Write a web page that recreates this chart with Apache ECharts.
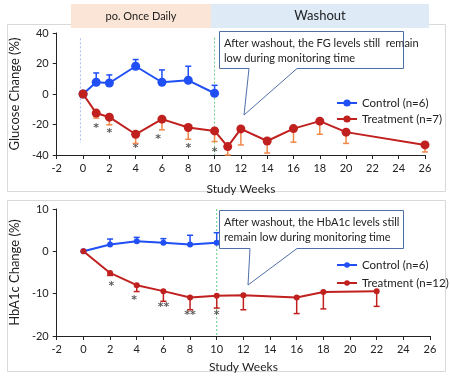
<!DOCTYPE html>
<html><head><meta charset="utf-8">
<script src="https://cdn.jsdelivr.net/npm/echarts@6/dist/echarts.min.js"></script>
<style>html,body{margin:0;padding:0;background:#fff}#c{width:450px;height:376px}</style>
</head><body><div id="c"></div>
<script>
// ---- Data ----
const xTicks = [-2,0,2,4,6,8,10,12,14,16,18,20,22,24,26];
// Top chart: fasting glucose change (%)
const fgCtrlWeeks = [0,1,2,4,6,8,10];
const fgCtrlVals  = [0,7.7,7.2,18.2,7.7,9.0,0.5];
const fgCtrlErr   = [0,6.1,5.3,4.4,8.1,9.2,5.2];
const fgTrtWeeks  = [0,1,2,4,6,8,10,11,12,14,16,18,20,26];
const fgTrtVals   = [0,-12.5,-15.2,-26.4,-16.5,-22.0,-24.2,-34.5,-22.9,-30.8,-22.7,-17.8,-25.0,-33.4];
const fgTrtErr    = [0,3.3,5.0,6.0,7.0,7.7,7.0,6.0,10.5,7.9,8.9,8.6,7.4,4.6];
const fgStarWeeks = [1,2,4,5.7,8,10];
const fgStarVals  = [-21.4,-24.2,-34.5,-28.6,-34.5,-36.7];
const fgStarText  = ['*','*','*','*','*','*'];
// Bottom chart: HbA1c change (%)
const hbCtrlWeeks = [0,2,4,6,8,10];
const hbCtrlVals  = [0,1.6,2.4,2.0,1.6,2.0];
const hbCtrlErr   = [0,1.3,0.9,1.0,2.2,2.4];
const hbTrtWeeks  = [0,2,4,6,8,10,12,16,18,22];
const hbTrtVals   = [0,-5.1,-8.0,-9.4,-10.9,-10.5,-10.4,-10.9,-9.6,-9.4];
const hbTrtErr    = [0,0.6,1.5,2.4,2.9,2.9,3.4,3.8,4.0,3.6];
const hbStarWeeks = [2.1,3.8,6,8,10];
const hbStarVals  = [-7.8,-11.1,-12.8,-14.6,-14.7];
const hbStarText  = ['*','*','**','**','*'];

const BLUE = '#1f4ff5', RED = '#c0201e', ORANGE = '#f0884a';
const FONT = 'Lato';

function zip(xs, ys){ return xs.map((x,i)=>[x, ys[i]]); }
function errData(xs, ys, es){ return xs.map((x,i)=>[x, ys[i], es[i]]); }
function errSeries(xi, yi, data, color, dir){
  return {
    type:'custom', xAxisIndex:xi, yAxisIndex:yi, data:data, z:3, silent:true,
    renderItem:function(params, api){
      const x = api.value(0), y = api.value(1), e = api.value(2);
      if (!e) return null;
      const p0 = api.coord([x, y]);
      const p1 = api.coord([x, y + dir*e]);
      const cs = params.coordSys;
      const yEnd = Math.max(cs.y, Math.min(cs.y+cs.height, p1[1]));
      const style = {stroke: color, lineWidth: 1.5};
      return {type:'group', children:[
        {type:'line', shape:{x1:p0[0], y1:p0[1], x2:p0[0], y2:yEnd}, style:style},
        {type:'line', shape:{x1:p0[0]-3, y1:yEnd, x2:p0[0]+3, y2:yEnd}, style:style}
      ]};
    }
  };
}
function starSeries(xi, yi, xs, ys, txt){
  return {
    type:'scatter', xAxisIndex:xi, yAxisIndex:yi, symbolSize:0, silent:true,
    data: xs.map((x,i)=>({value:[x, ys[i]], label:{formatter: txt[i]}})),
    label:{show:true, position:'inside', color:'#333', fontSize:11, fontWeight:'bold', fontFamily:'DejaVu Sans', offset:[0,2]}
  };
}
function vline(xi, yi, x, y0, y1, color){
  return {type:'line', xAxisIndex:xi, yAxisIndex:yi, data:[[x,y0],[x,y1]], symbol:'none', silent:true, z:1,
    color:color, lineStyle:{color:color, width:1, type:[2,2]}};
}

const axisLbl = {color:'#222', fontSize:11, fontFamily:FONT};
function xAxis(gi){
  return {type:'value', gridIndex:gi, min:-2, max:26, interval:2,
    name:'Study Weeks', nameLocation:'middle', nameGap: gi===0 ? 28 : 25,
    nameTextStyle:{color:'#222', fontSize:12, fontFamily:FONT},
    axisLine:{onZero:false, lineStyle:{color:'#222'}}, axisTick:{show:true, length:4, lineStyle:{color:'#222'}},
    axisLabel:axisLbl, splitLine:{show:false}};
}
function yAxis(gi, min, max, iv, name){
  return {type:'value', gridIndex:gi, min:min, max:max, interval:iv,
    name:name, nameLocation:'middle', nameGap: gi===0 ? 26 : 29,
    nameTextStyle:{color:'#222', fontSize:13, fontFamily:FONT},
    axisLine:{show:true, onZero:false, lineStyle:{color:'#222'}}, axisTick:{show:true, length:4, lineStyle:{color:'#222'}},
    axisLabel:axisLbl, splitLine:{show:false}};
}

const chart = echarts.init(document.getElementById('c'), null, {renderer:'canvas'});
const option = {
  animation:false,
  textStyle:{fontFamily:FONT},
  grid:[
    {left:45, right:25, top:33, bottom:221},
    {left:49, right:20, top:209, bottom:40}
  ],
  xAxis:[xAxis(0), xAxis(1)],
  yAxis:[yAxis(0,-40,40,20,'Glucose Change (%)'), yAxis(1,-20,10,10,'HbA1c Change (%)')],
  legend:[
    {orient:'vertical', left:331, top:92, itemWidth:20, itemHeight:9, itemGap:4,
     textStyle:{color:'#222', fontSize:11.5, fontFamily:FONT}, data:['Control (n=6)','Treatment (n=7)']},
    {orient:'vertical', left:331, top:254, itemWidth:20, itemHeight:7, itemGap:6,
     textStyle:{color:'#222', fontSize:11.5, fontFamily:FONT}, data:[{name:'Control (n=6)'},{name:'Treatment (n=12)'}]}
  ],
  graphic:[
    {type:'rect', shape:{x:7.5, y:24.5, width:438, height:167}, style:{fill:'none', stroke:'#d9d9d9', lineWidth:1}, z:-10},
    {type:'rect', shape:{x:7.5, y:200.5, width:438, height:171}, style:{fill:'none', stroke:'#d9d9d9', lineWidth:1}, z:-10},
    {type:'rect', shape:{x:71, y:4, width:140, height:24}, style:{fill:'#fbe5d6'}, z:5},
    {type:'rect', shape:{x:211, y:4, width:218, height:24}, style:{fill:'#deebf7'}, z:5},
    {type:'text', x:141, y:16, style:{text:'po. Once Daily', fill:'#222', fontSize:11, fontFamily:FONT, align:'center', verticalAlign:'middle'}, z:6},
    {type:'text', x:320, y:16, style:{text:'Washout', fill:'#222', fontSize:13, fontFamily:FONT, align:'center', verticalAlign:'middle'}, z:6},
    {type:'polygon', shape:{points:[[219.5,31.5],[403.5,31.5],[403.5,68.5],[297,68.5],[244,115],[249,68.5],[219.5,68.5]]},
      style:{fill:'#fff', stroke:'#4f6fa8', lineWidth:1}, z:20},
    {type:'text', x:224, y:43, style:{text:'After washout, the FG levels still  remain', fill:'#222', fontSize:11, fontFamily:FONT, verticalAlign:'middle'}, z:21},
    {type:'text', x:224, y:58, style:{text:'low during monitoring time', fill:'#222', fontSize:11, fontFamily:FONT, verticalAlign:'middle'}, z:21},
    {type:'polygon', shape:{points:[[219.5,210.5],[403.5,210.5],[403.5,248.5],[297,248.5],[248,285],[250,248.5],[219.5,248.5]]},
      style:{fill:'#fff', stroke:'#4f6fa8', lineWidth:1}, z:20},
    {type:'text', x:224, y:222, style:{text:'After washout, the HbA1c levels still', fill:'#222', fontSize:11, fontFamily:FONT, verticalAlign:'middle'}, z:21},
    {type:'text', x:224, y:237, style:{text:'remain low during monitoring time', fill:'#222', fontSize:11, fontFamily:FONT, verticalAlign:'middle'}, z:21}
  ],
  series:[
    vline(0,0,-0.2,36.5,-32,'#a9b9f0'),
    vline(0,0,10,37,-40,'#66cc88'),
    vline(1,1,10,10,-20,'#66cc88'),
    errSeries(0,0, errData(fgCtrlWeeks, fgCtrlVals, fgCtrlErr), BLUE, 1),
    errSeries(0,0, errData(fgTrtWeeks, fgTrtVals, fgTrtErr), ORANGE, -1),
    {name:'Control (n=6)', type:'line', xAxisIndex:0, yAxisIndex:0, data:zip(fgCtrlWeeks, fgCtrlVals),
      symbol:'circle', symbolSize:9, color:BLUE, lineStyle:{width:2, color:BLUE}, z:4},
    {name:'Treatment (n=7)', type:'line', xAxisIndex:0, yAxisIndex:0, data:zip(fgTrtWeeks, fgTrtVals),
      symbol:'circle', symbolSize:9, color:RED, lineStyle:{width:2, color:RED}, z:4},
    starSeries(0,0, fgStarWeeks, fgStarVals, fgStarText),
    errSeries(1,1, errData(hbCtrlWeeks, hbCtrlVals, hbCtrlErr), BLUE, 1),
    errSeries(1,1, errData(hbTrtWeeks, hbTrtVals, hbTrtErr), RED, -1),
    {name:'Control (n=6)', type:'line', xAxisIndex:1, yAxisIndex:1, data:zip(hbCtrlWeeks, hbCtrlVals),
      symbol:'circle', symbolSize:6, color:BLUE, lineStyle:{width:2, color:BLUE}, z:4},
    {name:'Treatment (n=12)', type:'line', xAxisIndex:1, yAxisIndex:1, data:zip(hbTrtWeeks, hbTrtVals),
      symbol:'circle', symbolSize:6, color:RED, lineStyle:{width:2, color:RED}, z:4},
    starSeries(1,1, hbStarWeeks, hbStarVals, hbStarText)
  ]
};
chart.setOption(option);
</script></body></html>
